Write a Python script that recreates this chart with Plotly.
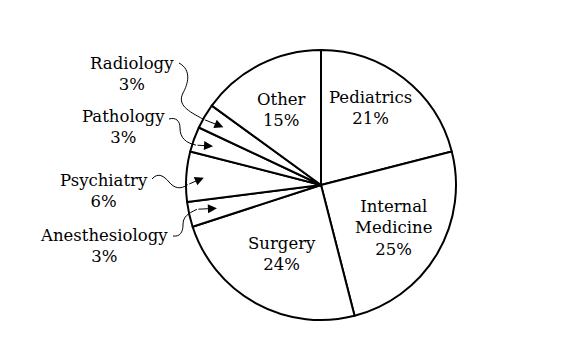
import math
import plotly.graph_objects as go

# ---- data ----
specialties = ["Pediatrics", "Internal Medicine", "Surgery", "Anesthesiology",
               "Psychiatry", "Pathology", "Radiology", "Other"]
shares = [21, 25, 24, 3, 6, 3, 3, 15]
label_text = ["Pediatrics", "Internal<br>Medicine", "Surgery", "Anesthesiology",
              "Psychiatry", "Pathology", "Radiology", "Other"]

# ---- layout geometry (pixels) ----
W, H = 561, 363
CX, CY, R = 321, 185, 135
FONT = dict(family="DejaVu Serif", size=16.5, color="black")


def px(x):
    return x / W


def py(y):
    return 1 - y / H


fig = go.Figure(go.Pie(
    labels=specialties, values=shares, sort=False, direction="clockwise",
    rotation=0, textinfo="none", hoverinfo="label+percent",
    marker=dict(colors=["white"] * len(shares), line=dict(color="black", width=2)),
    domain=dict(x=[px(CX - R), px(CX + R)], y=[py(CY + R), py(CY - R)]),
    showlegend=False,
))

# label block centres (pixels)
label_pos = {
    "Pediatrics": (370, 108),
    "Internal Medicine": (393, 228),
    "Surgery": (282, 254),
    "Other": (281, 110),
    "Radiology": (132, 74),
    "Pathology": (123, 127),
    "Psychiatry": (104, 191),
    "Anesthesiology": (104, 246),
}

annotations = []
for name, txt, v in zip(specialties, label_text, shares):
    x, y = label_pos[name]
    annotations.append(dict(x=px(x), y=py(y), xref="paper", yref="paper",
                            text=f"{txt}<br>{v}%", showarrow=False, font=FONT,
                            xanchor="center", yanchor="middle"))

# arrow tips from slice mid-angles
total = sum(shares)
cum = 0
mid = {}
for name, v in zip(specialties, shares):
    mid[name] = (cum + v / 2) / total * 2 * math.pi
    cum += v


def tip(name, frac):
    a = mid[name]
    return CX + frac * R * math.sin(a), CY - frac * R * math.cos(a)


# curve start -> controls -> tail, then straight arrow tail -> tip
callouts = {
    "Radiology": (0.84, (-20, -8), "M 179 63 C 192 70, 188 84, 183 93 C 177 105, 188 111, {tx} {ty}"),
    "Pathology": (0.85, (-17, -1), "M 169 119 C 176 117, 180 121, 180 128 C 180 138, 186 143, {tx} {ty}"),
    "Psychiatry": (0.87, (-16, 7), "M 152 179 C 158 172, 164 176, 169 182 C 174 188, 180 190, {tx} {ty}"),
    "Anesthesiology": (0.79, (-20, 1), "M 173 236 C 180 237, 183 232, 183 225 C 183 217, 187 214, {tx} {ty}"),
}

shapes = []
for name, (frac, (ox, oy), path) in callouts.items():
    tx, ty = tip(name, frac)
    tailx, taily = tx + ox, ty + oy
    p = path.format(tx=tailx, ty=taily)
    toks = p.replace(",", " ").split()
    out = []
    nums = []
    for t in toks:
        if t.isalpha():
            out.append(t)
        else:
            nums.append(float(t))
            if len(nums) == 2:
                out.append(f"{px(nums[0]):.5f},{py(nums[1]):.5f}")
                nums = []
    shapes.append(dict(type="path", path=" ".join(out), xref="paper", yref="paper",
                       line=dict(color="black", width=1)))
    annotations.append(dict(x=px(tx), y=py(ty), xref="paper", yref="paper", text="",
                            showarrow=True, arrowhead=2, arrowsize=1.8, arrowwidth=1,
                            arrowcolor="black", ax=ox, ay=oy, standoff=0))

fig.update_layout(
    width=W, height=H, margin=dict(l=0, r=0, t=0, b=0),
    paper_bgcolor="white", plot_bgcolor="white",
    annotations=annotations, shapes=shapes,
)

fig.write_html("out.html")
